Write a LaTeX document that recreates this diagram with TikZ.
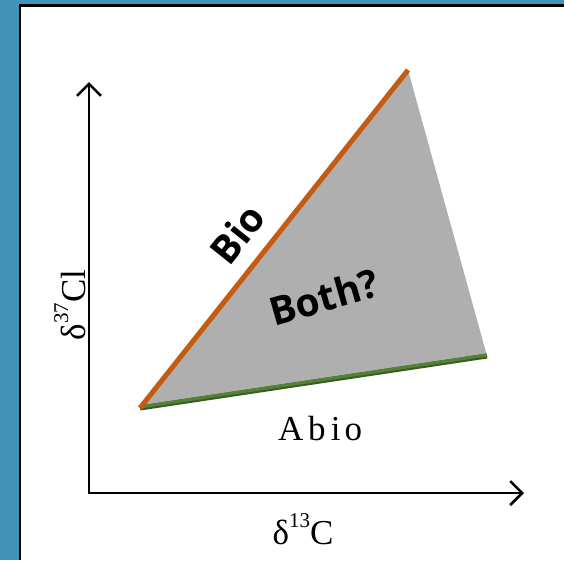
\documentclass[tikz,border=0pt]{standalone}
\usepackage{fontspec}
\setmainfont{Liberation Serif}
\newfontfamily\zonefont{Open Sans}
\usetikzlibrary{arrows.meta,calc}
\definecolor{panelbg}{RGB}{67,147,185}
\definecolor{biol}{RGB}{197,90,17}
\definecolor{abiol}{RGB}{84,130,53}
\definecolor{zone}{RGB}{175,175,175}
\newcommand{\iso}[1]{\raisebox{0.5em}{\fontsize{21}{21}\selectfont #1}}

\begin{document}
\begin{tikzpicture}[x=1pt,y=-1pt,>={Straight Barb[length=12pt,width=24pt]}]
  \tikzset{zonelab/.style={font=\zonefont\bfseries\fontsize{39}{39}\selectfont},
    axlab/.style={font=\fontsize{35}{35}\selectfont}}
  \useasboundingbox (0,0) rectangle (564,560);
  \fill[panelbg] (0,0) rectangle (564,560);
  \fill[white] (20,5.5) rectangle (564,560);
  \draw[line width=2.5pt] (20,560) -- (20,5.5) -- (564,5.5);
  % axes
  \coordinate (o) at (89,493); \coordinate (ytip) at (89,82); \coordinate (xtip) at (524,493);
  \draw[<->,line width=2.5pt] (ytip) |- (xtip);
  % triangle
  \coordinate (lo) at (140,408); \coordinate (hi) at (408,70); \coordinate (rt) at (487,356);
  \fill[zone] (lo) -- (hi) -- (rt) -- cycle;
  \draw[abiol!70!black,line width=5pt] (lo) -- (rt);
  \draw[abiol,line width=3pt] ($(lo)+(0,-1)$) -- ($(rt)+(0,-1)$);
  \draw[biol,line width=5pt] (lo) -- (hi);
  \node[zonelab,rotate=51.4] (bio) at (237,234) {Bio};
  \node[zonelab,rotate=16] (both) at (324,297) {Both?};
  \node[axlab] (abio) at (320,429) {A\kern5pt b\kern5pt i\kern4pt o};
  \node[axlab] (xlab) at (303,529) {δ\iso{13}C};
  \node[axlab,rotate=90] (ylab) at (70,305) {δ\iso{37}Cl};
\end{tikzpicture}
\end{document}
